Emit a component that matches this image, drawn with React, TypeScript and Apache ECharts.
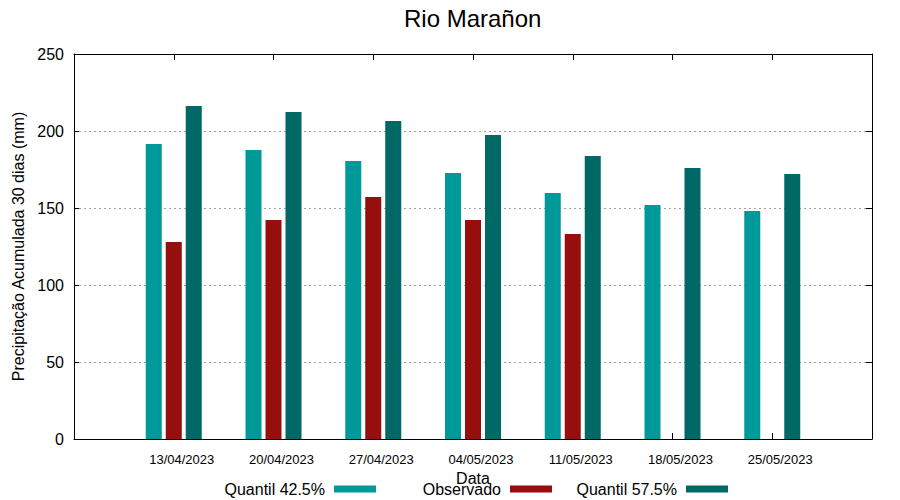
import React, { useEffect, useRef } from "react";
import * as echarts from "echarts";

const categories = ["13/04/2023", "20/04/2023", "27/04/2023", "04/05/2023", "11/05/2023", "18/05/2023", "25/05/2023"];
const quantil425 = [191.6, 187.7, 180.5, 172.7, 159.7, 151.9, 148.0];
const observado: (number | null)[] = [127.9, 142.2, 157.1, 142.2, 133.1, null, null];
const quantil575 = [216.2, 212.3, 206.5, 197.4, 183.8, 176.0, 172.0];
const yTicks = [0, 50, 100, 150, 200, 250];

const C1 = "#009999";
const C2 = "#960e0e";
const C3 = "#006966";
const FONT = "Liberation Sans, Arial, sans-serif";

const toPairs = (arr: (number | null)[]) =>
  arr.map((v, i) => [i + 1, v === null ? "-" : v]);

export default function App() {
  const ref = useRef<HTMLDivElement>(null);
  useEffect(() => {
    if (!ref.current) return;
    const chart = echarts.init(ref.current, null, { renderer: "svg" });
    const legendBase = {
      top: 481,
      padding: 0,
      align: "right" as const,
      icon: "rect",
      itemWidth: 42,
      itemHeight: 7,
      selectedMode: false,
      textStyle: { fontFamily: FONT, fontSize: 16, color: "#000", padding: [0, 4, 0, 0] },
    };
    const frameLine = { show: true, onZero: false, lineStyle: { color: "#000", width: 1 } };
    chart.setOption({
      animation: false,
      backgroundColor: "#fff",
      title: {
        text: "Rio Marañon",
        left: 404,
        top: 6,
        padding: 0,
        textStyle: { fontFamily: FONT, fontSize: 24, fontWeight: "normal", color: "#000" },
      },
      legend: [
        { ...legendBase, right: 900 - 376, data: ["Quantil 42.5%"] },
        { ...legendBase, right: 900 - 552, data: ["Observado"] },
        { ...legendBase, right: 900 - 728, data: ["Quantil 57.5%"] },
      ],
      grid: { left: 74, right: 28, top: 54, bottom: 61, show: false },
      xAxis: [
        {
          type: "value",
          position: "bottom",
          min: 0,
          max: 8,
          interval: 1,
          name: "Data",
          nameLocation: "middle",
          nameGap: 28,
          nameTextStyle: { fontFamily: FONT, fontSize: 16, color: "#000" },
          axisLine: frameLine,
          axisTick: { show: true, inside: true, length: 6, lineStyle: { color: "#000" } },
          splitLine: { show: false },
          axisLabel: {
            fontFamily: FONT,
            fontSize: 13,
            color: "#000",
            margin: 14,
            padding: [0, 0, 0, 16],
            formatter: (v: number) => (v >= 1 && v <= categories.length ? categories[v - 1] : ""),
          },
        },
        {
          type: "value",
          position: "top",
          min: 0,
          max: 8,
          interval: 1,
          axisLine: frameLine,
          axisTick: { show: true, inside: true, length: 6, lineStyle: { color: "#000" } },
          splitLine: { show: false },
          axisLabel: { show: false },
        },
      ],
      yAxis: [
        {
          type: "value",
          position: "left",
          min: yTicks[0],
          max: yTicks[yTicks.length - 1],
          interval: 50,
          name: "Precipitação Acumulada 30 dias (mm)",
          nameLocation: "middle",
          nameGap: 47,
          nameTextStyle: { fontFamily: FONT, fontSize: 16, color: "#000" },
          axisLine: frameLine,
          axisTick: { show: true, inside: true, length: 5, lineStyle: { color: "#000" } },
          splitLine: { show: true, lineStyle: { color: "#a0a0a0", width: 1, type: [2, 3] } },
          axisLabel: { fontFamily: FONT, fontSize: 16, color: "#000", margin: 10 },
        },
        {
          type: "value",
          position: "right",
          min: yTicks[0],
          max: yTicks[yTicks.length - 1],
          interval: 50,
          axisLine: frameLine,
          axisTick: { show: true, inside: true, length: 6, lineStyle: { color: "#000" } },
          splitLine: { show: false },
          axisLabel: { show: false },
        },
      ],
      series: [
        {
          name: "Quantil 42.5%",
          type: "bar",
          barWidth: 16,
          barGap: "25%",
          itemStyle: { color: C1 },
          data: toPairs(quantil425),
        },
        {
          name: "Observado",
          type: "bar",
          barWidth: 16,
          barGap: "25%",
          itemStyle: { color: C2 },
          data: toPairs(observado),
        },
        {
          name: "Quantil 57.5%",
          type: "bar",
          barWidth: 16,
          barGap: "25%",
          itemStyle: { color: C3 },
          data: toPairs(quantil575),
        },
      ],
    });
    return () => chart.dispose();
  }, []);
  return (
    <div
      ref={ref}
      style={{ position: "fixed", left: 0, top: 0, width: 900, height: 500, background: "#fff" }}
    />
  );
}
